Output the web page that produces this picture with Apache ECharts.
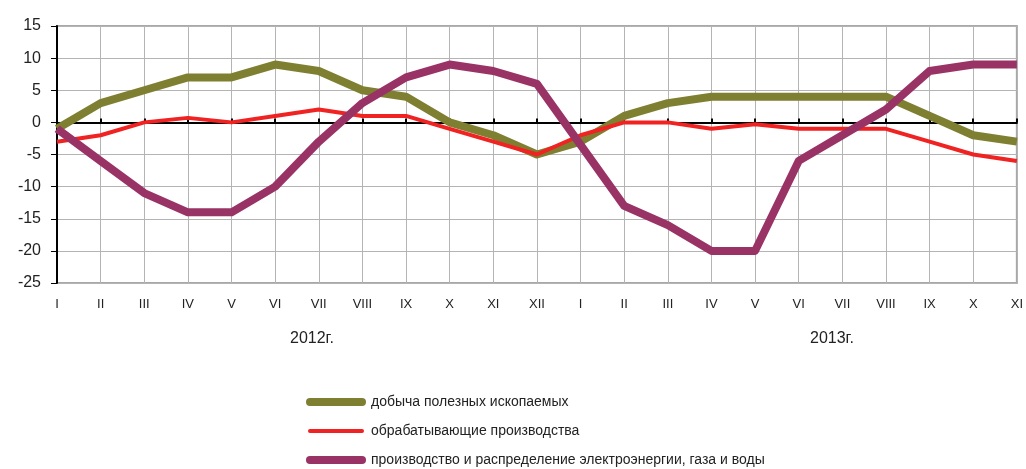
<!DOCTYPE html>
<html lang="ru">
<head>
    <meta charset="UTF-8">
    <script src="https://cdn.jsdelivr.net/npm/echarts@6/dist/echarts.min.js"></script>
    <title>Индексы производства</title>
    <style>
        *{ margin: 0; padding: 0; }
        #chart{ width: 1026px; height: 469px; background: #fff; }
    </style>
</head>
<body>
    <div id="chart"></div>
<script>
    // месяцы: 2012 I..XII, 2013 I..XI
    var months = ['I','II','III','IV','V','VI','VII','VIII','IX','X','XI','XII',
                  'I','II','III','IV','V','VI','VII','VIII','IX','X','XI'];
    var years = ['2012г.', '2013г.'];
    var seriesNames = [
        'добыча полезных ископаемых',
        'обрабатывающие производства',
        'производство и распределение электроэнергии, газа и воды'
    ];
    var mining = [-1, 3, 5, 7, 7, 9, 8, 5, 4, 0, -2, -5,
                  -3, 1, 3, 4, 4, 4, 4, 4, 1, -2, -3];
    var manufacturing = [-3, -2, 0, 0.7, 0, 1, 2, 1, 1, -1, -3, -5,
                         -2, 0, 0, -1, -0.3, -1, -1, -1, -3, -5, -6];
    var energy = [-1, -6, -11, -14, -14, -10, -3, 3, 7, 9, 8, 6,
                  -3.5, -13, -16, -20, -20, -6, -2, 2, 8, 9, 9];

    var colors = ['#7f7f32', '#f02222', '#993366'];
    var widths = [8, 4, 8];
    var values = [mining, manufacturing, energy];

    var chart = echarts.init(document.getElementById('chart'));
    var font = 'Liberation Sans, Arial, sans-serif';

    var option = {
        animation: false,
        grid: {
            left: 57, right: 4, top: 26, bottom: 186,
            show: true, borderColor: '#a8a8a8', borderWidth: 2
        },
        xAxis: [{
            type: 'category',
            data: months,
            boundaryGap: false,
            axisLine: { show: false, onZero: false },
            axisTick: { show: false },
            axisLabel: { color: '#222', fontSize: 13, fontFamily: font, margin: 15, interval: 0 },
            splitLine: { show: true, lineStyle: { color: '#b4b4b4', width: 1 } }
        }, {
            // линия нуля с засечками
            type: 'category',
            data: months,
            boundaryGap: false,
            axisLine: { show: true, onZero: true, lineStyle: { color: '#000', width: 2 } },
            axisTick: { show: true, length: 4, inside: false, lineStyle: { color: '#000', width: 2 } },
            axisLabel: { show: false }
        }],
        yAxis: {
            type: 'value',
            min: -25, max: 15, interval: 5,
            axisLine: { show: true, lineStyle: { color: '#000', width: 2 } },
            axisTick: { show: true, length: 6, lineStyle: { color: '#000' } },
            axisLabel: { color: '#222', fontSize: 16, fontFamily: font, margin: 16 },
            splitLine: { show: true, lineStyle: { color: '#b4b4b4', width: 1 } }
        },
        legend: {
            orient: 'vertical',
            left: 306, top: 395,
            padding: 0,
            itemWidth: 52, itemHeight: 14, itemGap: 15,
            textStyle: { color: '#222', fontSize: 14, fontFamily: font, padding: [3, 0, 0, 4] },
            data: seriesNames.map(function (n, i) {
                return { name: n,
                    itemStyle: { color: 'rgba(0,0,0,0)', borderWidth: 0, opacity: 0 },
                    lineStyle: { color: colors[i], width: widths[i], cap: 'round' } };
            })
        },
        graphic: years.map(function (y, i) {
            return {
                type: 'text',
                left: i === 0 ? 290 : 810,
                top: 331,
                style: { text: y, fill: '#222', font: '16px ' + font }
            };
        }),
        series: seriesNames.map(function (n, i) {
            return {
                name: n,
                type: 'line',
                data: values[i],
                symbol: 'none',
                lineStyle: { color: colors[i], width: widths[i], join: 'round' },
                itemStyle: { color: colors[i] },
                z: 3 + i
            };
        })
    };
    chart.setOption(option);
</script>
</body>
</html>
